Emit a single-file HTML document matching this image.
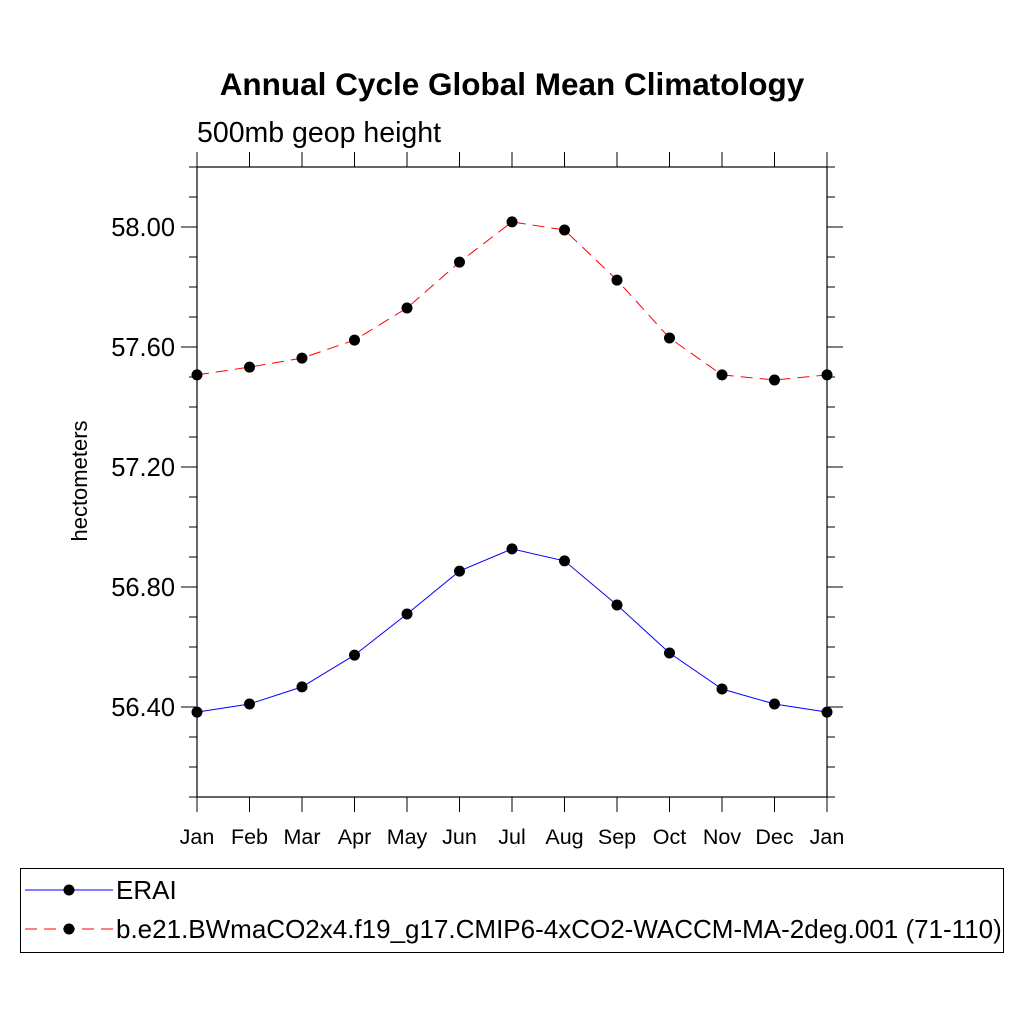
<!DOCTYPE html>
<html><head><meta charset="utf-8"><style>
html,body{margin:0;padding:0;background:#fff;}
svg text{font-family:"Liberation Sans",sans-serif;}
</style></head><body>
<svg id="chart" width="1024" height="1024" xmlns="http://www.w3.org/2000/svg">
<text x="512" y="95" text-anchor="middle" font-size="31.5" font-weight="bold">Annual Cycle Global Mean Climatology</text>
<text x="197" y="142" font-size="28.5">500mb geop height</text>
<text transform="translate(87,481) rotate(-90)" text-anchor="middle" font-size="22">hectometers</text>
<g id="axes"></g>
<g id="series"></g>
<g>
<rect x="20.5" y="868.5" width="983" height="84" fill="none" stroke="#000" stroke-width="1"/>
<g>
<line x1="25" y1="890" x2="113" y2="890" stroke="#0000ff" stroke-width="1"/>
<circle cx="69" cy="890" r="5.5" fill="#000"/>
<text x="116" y="899" font-size="26">ERAI</text></g>
<g>
<line x1="25" y1="929" x2="113" y2="929" stroke="#ff0000" stroke-width="1" stroke-dasharray="12,7"/>
<circle cx="69" cy="929" r="5.5" fill="#000"/>
<text x="116" y="938" font-size="26">b.e21.BWmaCO2x4.f19_g17.CMIP6-4xCO2-WACCM-MA-2deg.001 (71-110)</text></g>
</g>
</svg>
<script>
const months = ["Jan","Feb","Mar","Apr","May","Jun","Jul","Aug","Sep","Oct","Nov","Dec","Jan"];
const eraiValues = [56.383,56.41,56.467,56.573,56.71,56.853,56.927,56.887,56.74,56.58,56.46,56.41,56.383];
const modelValues = [57.507,57.533,57.563,57.623,57.73,57.883,58.017,57.99,57.823,57.63,57.507,57.49,57.507];
const yTickValues = [56.4,56.8,57.2,57.6,58.0];
const yTickLabels = ["56.40","56.80","57.20","57.60","58.00"];
const ns="http://www.w3.org/2000/svg";
const L=197,R=827,T=167,B=797,YMIN=56.1,YMAX=58.2;
const xs=i=>L+(R-L)*i/(months.length-1);
const ys=v=>B-(v-YMIN)/(YMAX-YMIN)*(B-T);
function mk(tag,attrs,parent){const e=document.createElementNS(ns,tag);for(const k in attrs)e.setAttribute(k,attrs[k]);parent.appendChild(e);return e;}
const ax=document.getElementById('axes');
const frame=mk('rect',{x:L,y:T,width:R-L,height:B-T,fill:'none',stroke:'#000','stroke-width':1.2},ax);


months.forEach((m,i)=>{
  const x=xs(i);
  mk('line',{x1:x,y1:B,x2:x,y2:B+15,stroke:'#000'},ax);
  mk('line',{x1:x,y1:T,x2:x,y2:T-15,stroke:'#000'},ax);
  const t=mk('text',{x:x,y:844,'text-anchor':'middle','font-size':21.5},ax);
  t.textContent=m;
  
  
});
for(let k=0;k<=21;k++){
  const v=YMIN+k*0.1;const y=ys(v);
  const major=yTickValues.some(tv=>Math.abs(tv-v)<1e-6);
  const len=major?16:8;
  mk('line',{x1:L-len,y1:y,x2:L,y2:y,stroke:'#000'},ax);
  mk('line',{x1:R,y1:y,x2:R+len,y2:y,stroke:'#000'},ax);
}
yTickValues.forEach((v,i)=>{
  const t=mk('text',{x:175,y:ys(v)+9,'text-anchor':'end','font-size':25.5},ax);
  t.textContent=yTickLabels[i];
  
  
});
const sg=document.getElementById('series');
function series(vals,color,dash,name){
  const g=mk('g',{},sg);
  
  
  const p=mk('polyline',{points:vals.map((v,i)=>xs(i)+','+ys(v)).join(' '),fill:'none',stroke:color,'stroke-width':1,'stroke-dasharray':dash},g);
  
  
  vals.forEach((v,i)=>{
    const c=mk('circle',{cx:xs(i),cy:ys(v),r:5.5,fill:'#000'},g);
    
    
  });
}
series(modelValues,'#ff0000','12,7','model-series');
series(eraiValues,'#0000ff','none','erai-series');
</script>
</body></html>
